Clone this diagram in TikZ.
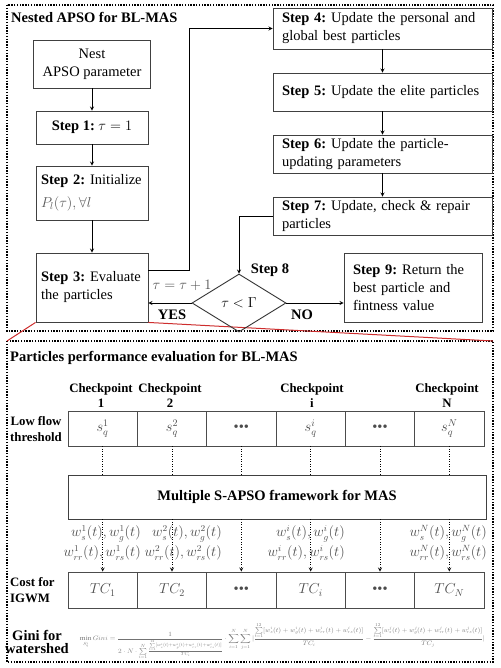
\documentclass[tikz,border=0pt]{standalone}
\usepackage{fontspec}
\setmainfont{Liberation Serif}
\usepackage{amsmath}
\usepackage{graphicx}
\usetikzlibrary{shapes.geometric}
\definecolor{redline}{RGB}{205,45,45}
\newcommand{\threedots}{\textbullet\textbullet\textbullet}
\frenchspacing
\tikzset{
  box/.style={draw=black!75,line width=0.9pt,inner xsep=9pt,inner ysep=2pt,align=left},
  lbox/.style={box,inner xsep=5pt,text width=102pt},
  cell/.style={draw=black!70,line width=0.9pt,minimum width=69.33pt,inner sep=0pt,text=black!70},
  frame/.style={line width=1.4pt,dash pattern=on 1.4pt off 1.4pt},
  ttl/.style={inner sep=0pt,font=\fontsize{14.5}{17}\selectfont\bfseries,align=center},
  sml/.style={inner sep=0pt,font=\fontsize{12.8}{16}\selectfont\bfseries,align=center},
  wlbl/.style={inner sep=0pt,align=right,text=black!70,font=\fontsize{13.5}{20}\selectfont},
  link/.style={line width=0.8pt},
  dots/.style={line width=0.8pt,dash pattern=on 1pt off 1.5pt},
}
\begin{document}
\begin{tikzpicture}[>=stealth,x=1pt,y=-1pt,font=\fontsize{14.5}{18}\selectfont]
  \def\cw{69.33} % width of one checkpoint cell
  \def\cx{68}
  \useasboundingbox (0,0) rectangle (500,668);
  \draw[frame] (7,5) rectangle (493,331);
  \draw[frame] (7,341) rectangle (493,662);
  \coordinate (frL) at (7,341);
  \coordinate (frR) at (493,341);
  \node[ttl,anchor=west] (ttlA) at (11,17) {Nested APSO for BL-MAS};
  % left column
  \node[box,align=center,minimum width=112pt,minimum height=48pt] (nest) at (92,64) {Nest\\APSO parameter};
  \node[box,align=center,minimum width=112pt,minimum height=33pt] (s1) at (92,127.5) {\textbf{Step 1:} $\tau=1$};
  \node[lbox,minimum height=54pt] (s2) at (92,193) {\textbf{Step 2:} Initialize\\[5pt]\textcolor{black!65}{$P_l(\tau),\forall l$}};
  \node[lbox,minimum height=69pt] (s3) at (92,287.5) {\textbf{Step 3:} Evaluate\\the particles};
  % right column
  \node[box,text width=201pt,minimum height=41pt] (s4) at (382.5,28.5) {\textbf{Step 4:} Update the personal and\\global best particles};
  \node[box,text width=201pt,minimum height=38pt] (s5) at (382.5,92) {\textbf{Step 5:} Update the elite particles};
  \node[box,text width=201pt,minimum height=38pt] (s6) at (382.5,154) {\textbf{Step 6:} Update the particle-\\updating parameters};
  \node[box,text width=201pt,minimum height=38pt] (s7) at (382.5,216) {\textbf{Step 7:} Update, check \& repair\\particles};
  \node[box,text width=120pt,minimum height=69pt] (s9) at (413,287.5) {\textbf{Step 9:} Return the\\best particle and\\fintness value};
  \draw[redline,line width=1pt] (s3.south west) -- (frL);
  \draw[redline,line width=1pt] (s3.south east) -- (frR);
  \node[diamond,draw=black!80,line width=0.9pt,minimum width=94pt,minimum height=58pt,inner sep=0pt] (s8) at (239,303) {$\tau<\Gamma$};
  \node[ttl] (s8t) at (270,270) {Step 8};
  \node[inner sep=0pt,text=black!70] (upd) at (182,285) {$\tau=\tau+1$};
  \node[ttl] (yes) at (172,315) {YES};
  \node[ttl] (no) at (302,315) {NO};
  \draw[->,link] (nest) -- (s1);
  \draw[->,link] (s1) -- (s2);
  \draw[->,link] (s2) -- (s3);
  \draw[->,link] (s4) -- (s5);
  \draw[->,link] (s5) -- (s6);
  \draw[->,link] (s6) -- (s7);
  \draw[->,link] ([yshift=17.5pt]s3.east) -- ++(41,0) |- (s4.west);
  \draw[->,link] (s7.west) -| (s8.north);
  \draw[->,link] (s8.west) -- (s8.west -| s3.east);
  \draw[->,link] (s8.east) -- (s8.east -| s9.west);
  % evaluation part
  \node[ttl,anchor=west] (ttlB) at (10,358) {Particles performance evaluation for BL-MAS};
  \node[sml] (lowf) at (36,429) {Low flow\\threshold};
  \node[sml,align=left,anchor=west] (cost) at (10,590) {Cost for\\IGWM};
  \node[ttl,font=\fontsize{14.5}{15}\selectfont\bfseries] (gini) at (37,642) {Gini for\\[-2pt]watershed};
  \node[draw=black!75,line width=0.9pt,minimum width=418pt,minimum height=44pt,font=\fontsize{14.5}{18}\selectfont\bfseries] (mas) at (277,497) {Multiple S-APSO framework for MAS};
  \foreach \k/\s/\t in {1/{$s_q^1$}/{$TC_1$},2/{$s_q^2$}/{$TC_2$},3/{\threedots}/{\threedots},4/{$s_q^i$}/{$TC_i$},5/{\threedots}/{\threedots},6/{$s_q^N$}/{$TC_N$}}{
    \node[cell,minimum height=35pt] (a\k) at ({\cx+\cw*(\k-0.5)},428.5) {\s};
    \node[cell,minimum height=36pt] (b\k) at ({\cx+\cw*(\k-0.5)},590) {\t};
    \draw[dots] (a\k.south) -- (a\k.south |- mas.north);
    \draw[dots,->] (a\k.south |- mas.south) -- (b\k.north);
  }
  \node[sml,font=\fontsize{12.8}{15}\selectfont\bfseries] (cp1) at (101,396) {Checkpoint\\1};
  \node[sml,font=\fontsize{12.8}{15}\selectfont\bfseries] (cp2) at (170,396) {Checkpoint\\2};
  \node[sml,font=\fontsize{12.8}{15}\selectfont\bfseries] (cpi) at (312,396) {Checkpoint\\i};
  \node[sml,font=\fontsize{12.8}{15}\selectfont\bfseries] (cpN) at (447,396) {Checkpoint\\N};
  \node[wlbl,anchor=east] (w1) at (141,543) {$w_s^1(t), w_g^1(t)$\\$w_{rr}^1(t), w_{rs}^1(t)$};
  \node[wlbl,anchor=east] (w2) at (222,543) {$w_s^2(t), w_g^2(t)$\\$w_{rr}^2(t), w_{rs}^2(t)$};
  \node[wlbl,anchor=east] (wi) at (345,543) {$w_s^i(t), w_g^i(t)$\\$w_{rr}^i(t), w_{rs}^i(t)$};
  \node[wlbl,anchor=east] (wN) at (487,543) {$w_s^N(t), w_g^N(t)$\\$w_{rr}^N(t), w_{rs}^N(t)$};
  \node[inner sep=0pt,text=black!55] (gf) at (282.5,641) {\resizebox*{405pt}{37pt}{$\displaystyle \min_{S_q^i} Gini=\frac{1}{2\cdot N\cdot\sum\limits_{i=1}^{N}\frac{\sum\limits_{t=1}^{12}[w_s^i(t)+w_g^i(t)+w_{rr}^i(t)+w_{rs}^i(t)]}{TC_i}}\cdot\sum_{i=1}^{N}\sum_{j=1}^{N}|\frac{\sum\limits_{t=1}^{12}[w_s^i(t)+w_g^i(t)+w_{rr}^i(t)+w_{rs}^i(t)]}{TC_i}-\frac{\sum\limits_{t=1}^{12}[w_s^j(t)+w_g^j(t)+w_{rr}^j(t)+w_{rs}^j(t)]}{TC_j}|$}};
\end{tikzpicture}
\end{document}
